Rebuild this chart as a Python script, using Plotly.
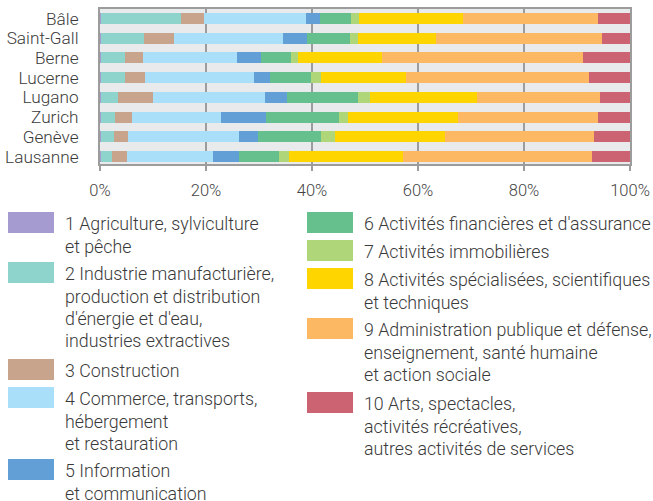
import plotly.graph_objects as go

# Cities, top to bottom
cities = ["Bâle", "Saint-Gall", "Berne", "Lucerne", "Lugano", "Zurich", "Genève", "Lausanne"]

# Share of jobs by economic section (%), one list per section, in city order
agriculture = [0.1, 0.2, 0.1, 0.1, 0.2, 0.1, 0.1, 0.1]
industrie = [15.2, 8.1, 4.6, 4.6, 3.2, 2.7, 2.5, 2.2]
construction = [4.3, 5.7, 3.4, 3.8, 6.6, 3.2, 2.7, 2.8]
commerce = [19.3, 20.5, 17.7, 20.6, 21.1, 16.8, 20.9, 16.2]
information = [2.6, 4.6, 4.6, 3.0, 4.2, 8.5, 3.6, 4.9]
finance = [5.9, 8.1, 5.6, 7.7, 13.4, 13.8, 11.9, 7.6]
immobilier = [1.5, 1.5, 1.4, 1.9, 2.2, 1.7, 2.6, 1.9]
specialisees = [19.6, 14.7, 15.8, 16.0, 20.2, 20.7, 20.8, 21.5]
administration = [25.5, 31.3, 37.9, 34.6, 23.2, 26.5, 28.1, 35.6]
arts = [6.0, 5.3, 8.9, 7.7, 5.7, 6.0, 6.8, 7.2]

tick_vals = [0, 20, 40, 60, 80, 100]
tick_text = ["0%", "20%", "40%", "60%", "80%", "100%"]

sections = [
    ("1 Agriculture, sylviculture<br>et pêche", agriculture, "#a59bd0"),
    ("2 Industrie manufacturière,<br>production et distribution<br>d'énergie et d'eau,<br>industries extractives", industrie, "#8fd4cc"),
    ("3 Construction", construction, "#c9a48d"),
    ("4 Commerce, transports,<br>hébergement<br>et restauration", commerce, "#a9dff9"),
    ("5 Information<br>et communication", information, "#629fd6"),
    ("6 Activités financières et d'assurance", finance, "#66c08e"),
    ("7 Activités immobilières", immobilier, "#b0d67a"),
    ("8 Activités spécialisées, scientifiques<br>et techniques", specialisees, "#ffd500"),
    ("9 Administration publique et défense,<br>enseignement, santé humaine<br>et action sociale", administration, "#fdb863"),
    ("10 Arts, spectacles,<br>activités récréatives,<br>autres activités de services", arts, "#cc6373"),
]

FONT = "Roboto"
TEXT_COLOR = "#3a3a3a"

W, H = 653, 501
ML, MR, MT, MB = 100, 23, 9, 337
PW, PH = W - ML - MR, H - MT - MB

fig = go.Figure()
for name, vals, color in sections:
    fig.add_trace(go.Bar(
        y=cities, x=vals, name=name, orientation="h",
        marker=dict(color=color, line=dict(width=0)),
        width=0.56, showlegend=False,
    ))

# Custom two-column legend with large swatches
def px_x(x):
    return (x - ML) / PW

def px_y(y):
    return (H - MB - y) / PH

legend_layout = [
    # (column x of swatch, swatch top y)
    (8, 212), (8, 262), (8, 359), (8, 387), (8, 459),
    (307, 212), (307, 240), (307, 268), (307, 318), (307, 392),
]
SW_W, SW_H, LINE_H = 46, 21, 22.3

shapes = []
annotations = []
for (name, _, color), (sx, sy) in zip(sections, legend_layout):
    shapes.append(dict(
        type="rect", xref="paper", yref="paper",
        x0=px_x(sx), x1=px_x(sx + SW_W), y0=px_y(sy + SW_H), y1=px_y(sy),
        fillcolor=color, line=dict(width=0), layer="above",
    ))
    for i, line in enumerate(name.split("<br>")):
        annotations.append(dict(
            text=line, xref="paper", yref="paper",
            x=px_x(sx + 55), y=px_y(sy + SW_H / 2 + 1.2 + i * LINE_H),
            xanchor="left", yanchor="middle", showarrow=False,
            font=dict(family=FONT, size=17.8, color=TEXT_COLOR, weight=300),
        ))

fig.update_layout(
    barmode="stack",
    width=W, height=H,
    margin=dict(l=ML, r=MR, t=MT, b=MB, pad=0, autoexpand=False),
    paper_bgcolor="white",
    plot_bgcolor="#e9eaec",
    shapes=shapes,
    annotations=annotations,
    font=dict(family=FONT, color=TEXT_COLOR),
)
fig.update_xaxes(
    range=[0, 100], tickvals=tick_vals, ticktext=tick_text,
    showgrid=True, gridcolor="#9c9c9c", gridwidth=1.5,
    showline=True, mirror=True, linecolor="#9c9c9c", linewidth=2,
    ticks="outside", ticklen=5, tickcolor="#9c9c9c", tickwidth=1.5,
    ticklabelstandoff=5, automargin=False,
    tickfont=dict(family=FONT, size=16.5, color="#444444", weight=300),
    zeroline=False, fixedrange=True,
)
fig.update_yaxes(
    categoryorder="array", categoryarray=cities,
    tickmode="array", tickvals=cities, ticktext=cities,
    range=[7.38, -0.485],
    showgrid=False, showline=True, mirror=True, linecolor="#9c9c9c", linewidth=2,
    ticks="", ticklabelstandoff=16, automargin=False,
    tickfont=dict(family=FONT, size=17.2, color=TEXT_COLOR, weight=300),
    zeroline=False, fixedrange=True,
)

fig.write_html("out.html", config={"displayModeBar": False})
